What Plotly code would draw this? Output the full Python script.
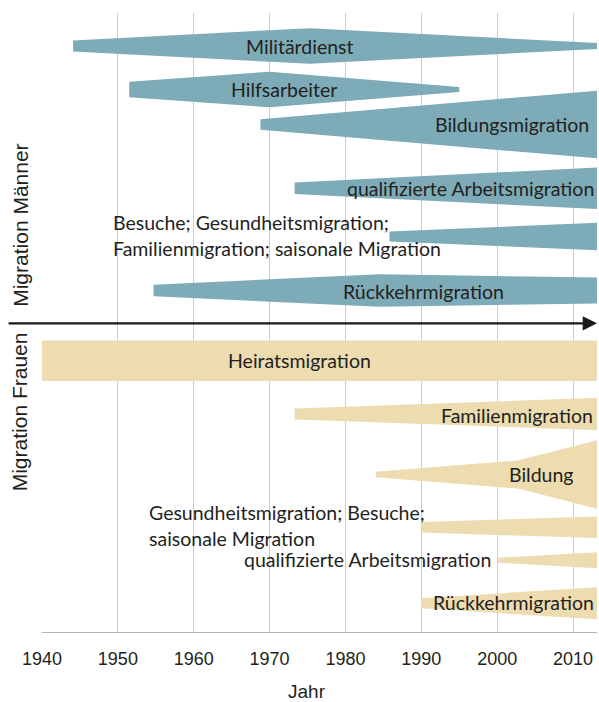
import plotly.graph_objects as go

# ---------------- data ----------------
# y axis: vertical position units (0 = top of chart, grows downward)
# Men bands
men_names = ["Militärdienst", "Hilfsarbeiter", "Bildungsmigration",
             "qualifizierte Arbeitsmigration", "Besuche", "Rückkehrmigration"]
men_centers = [33, 76.5, 111.5, 175.3, 223.5, 277.5]
men_years = [[1944.1, 1975.3, 2013.16],
             [1951.5, 1970.0, 1995.0],
             [1968.8, 2013.16],
             [1973.3, 2013.16],
             [1985.8, 2013.16],
             [1954.7, 1984.5, 2013.16]]
men_halfwidths = [[5.5, 17.8, 3.0],
                  [7.8, 17.8, 2.5],
                  [5.3, 33.8],
                  [5.7, 20.8],
                  [5.0, 13.7],
                  [5.8, 16.3, 13.0]]

# Women bands
women_names = ["Heiratsmigration", "Familienmigration", "Bildung",
               "Gesundheitsmigration", "qualifizierte Arbeitsmigration", "Rückkehrmigration"]
women_centers = [347.8, 401.0, 461.5, 514.3, 547.2, 590.3]
women_years = [[1940.0, 2013.16],
               [1973.3, 2013.16],
               [1984.0, 2002.7, 2013.16],
               [1990.0, 2013.16],
               [2000.1, 2013.16],
               [1990.0, 2013.16]]
women_halfwidths = [[20.2, 20.2],
                    [5.5, 16.2],
                    [2.8, 14.0, 34.2],
                    [5.3, 10.8],
                    [2.5, 8.0],
                    [5.0, 16.0]]

# Labels: text, x (year), y, anchor
label_texts = ["Militärdienst", "Hilfsarbeiter", "Bildungsmigration",
               "qualifizierte Arbeitsmigration",
               "Besuche; Gesundheitsmigration;", "Familienmigration; saisonale Migration",
               "Rückkehrmigration",
               "Heiratsmigration", "Familienmigration", "Bildung",
               "Gesundheitsmigration; Besuche;", "saisonale Migration",
               "qualifizierte Arbeitsmigration", "Rückkehrmigration"]
label_x = [1974.0, 1971.9, 2012.4, 2013.0, 1949.06, 1949.06, 1990.3,
           1973.95, 2012.86, 2005.8, 1953.9, 1953.9, 1999.45, 2013.08]
label_y = [33, 76, 111, 175, 209, 235, 278,
           347, 402.5, 461, 499.7, 525.3, 546.3, 589.7]
label_anchor = ["center", "center", "right", "right", "left", "left", "center",
                "center", "right", "center", "left", "left", "right", "right"]

tick_years = [1940, 1950, 1960, 1970, 1980, 1990, 2000, 2010]
x_range = [1940, 2013.16]
y_range = [619, 0]
axis_title_x = "Jahr"
side_titles = ["Migration Männer", "Migration Frauen"]
side_title_y = [212, 398.5]
arrow_y = 310.3

TEAL = "#7dabb7"
BEIGE = "#ecdcb0"
TEXT = "#231f20"

fig = go.Figure()


def add_band(years, hws, center, color):
    xs = list(years) + list(reversed(years))
    ys = [center - h for h in hws] + [center + h for h in reversed(hws)]
    fig.add_trace(go.Scatter(x=xs, y=ys, fill="toself", mode="lines",
                             line=dict(width=0, color=color), fillcolor=color,
                             hoverinfo="skip", showlegend=False))


for yrs, hws, c in zip(men_years, men_halfwidths, men_centers):
    add_band(yrs, hws, c, TEAL)
for yrs, hws, c in zip(women_years, women_halfwidths, women_centers):
    add_band(yrs, hws, c, BEIGE)

for t, x, y, a in zip(label_texts, label_x, label_y, label_anchor):
    fig.add_annotation(x=x, y=y, text=t, showarrow=False, xanchor=a, yanchor="middle",
                       font=dict(family="Lato", size=19.5, color=TEXT))

for t, y in zip(side_titles, side_title_y):
    fig.add_annotation(x=-0.04, xref="paper", y=y, yref="y", text=t, textangle=-90,
                       showarrow=False, xanchor="center", yanchor="middle",
                       font=dict(family="Liberation Sans", size=21, color=TEXT))

fig.add_annotation(x=0.478, xref="paper", y=-0.0964, yref="paper", text=axis_title_x,
                   showarrow=False, xanchor="center", yanchor="middle",
                   font=dict(family="Liberation Sans", size=19, color=TEXT))

# arrow separating men / women
fig.add_annotation(x=x_range[1], y=arrow_y, ax=1935.4, ay=arrow_y, axref="x", ayref="y",
                   xref="x", yref="y", text="", showarrow=True, arrowhead=2,
                   arrowsize=1.3, arrowwidth=2.2, arrowcolor="#1a1a1a")

fig.update_xaxes(range=x_range, tickvals=tick_years, showgrid=True, gridcolor="#cccccc",
                 gridwidth=1, showline=True, linecolor="#b3b3b3", linewidth=1,
                 zeroline=False, ticks="outside", ticklen=10, tickcolor="rgba(0,0,0,0)",
                 tickfont=dict(family="Liberation Sans", size=18, color=TEXT))
fig.update_yaxes(range=y_range, showgrid=False, zeroline=False, showticklabels=False,
                 showline=False)

fig.update_layout(width=599, height=702, margin=dict(l=42, r=2, t=13, b=70),
                  plot_bgcolor="white", paper_bgcolor="white", showlegend=False)

fig.write_html("out.html", post_script="document.body.style.margin='0';",
               config={"displayModeBar": False})
